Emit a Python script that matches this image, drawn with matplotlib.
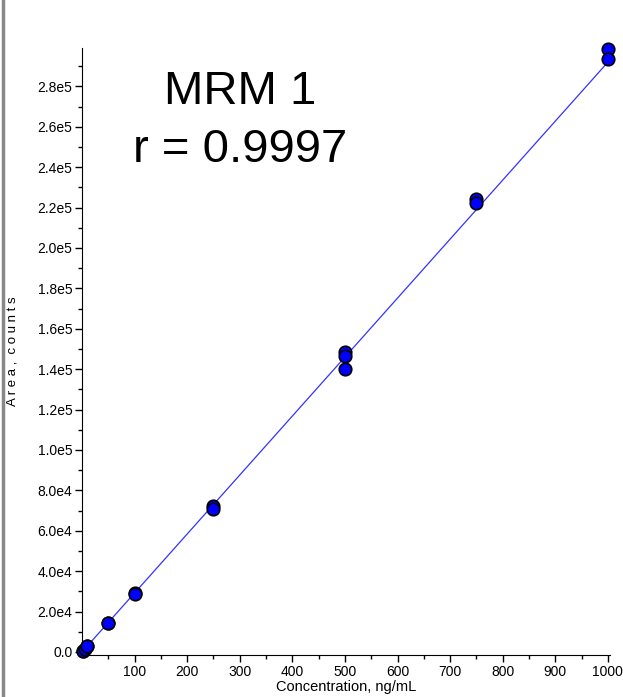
import matplotlib
matplotlib.use("Agg")
import matplotlib.pyplot as plt
from matplotlib.lines import Line2D
import numpy as np

# calibration standards
conc = [1, 1, 5, 10, 10, 50, 50, 100, 100, 250, 250, 500, 500, 500, 750, 750, 1000, 1000]
area = [300, 250, 1500, 3000, 2900, 14300, 14100, 29200, 28500, 72200, 71000,
        148400, 146400, 140000, 224100, 222100, 298300, 293400]

fit_slope = 292.0
fit_intercept = 0.0

y_ticks = [0, 2e4, 4e4, 6e4, 8e4, 1e5, 1.2e5, 1.4e5, 1.6e5, 1.8e5, 2e5,
           2.2e5, 2.4e5, 2.6e5, 2.8e5]
y_labels = ["0.0", "2.0e4", "4.0e4", "6.0e4", "8.0e4", "1.0e5", "1.2e5", "1.4e5",
            "1.6e5", "1.8e5", "2.0e5", "2.2e5", "2.4e5", "2.6e5", "2.8e5"]
x_ticks = [100, 200, 300, 400, 500, 600, 700, 800, 900, 1000]

plt.rcParams['font.family'] = ['Liberation Sans', 'DejaVu Sans']

fig = plt.figure(figsize=(6.23, 6.97), dpi=100)
ax = fig.add_axes([82 / 623, 42 / 697, 528 / 623, 607 / 697])

# fitted line
xs = np.array([0, 1000])
ax.plot(xs, fit_slope * xs + fit_intercept, color='#3333ff', lw=0.9, zorder=2)

# points
ax.plot(conc, area, 'o', ms=9, mfc='#0000ff', mec='black', mew=1.2, zorder=3,
        clip_on=False)

ax.set_xlim(0, 1004)
ax.set_ylim(-1500, 299000)

ax.set_xticks(x_ticks)
ax.set_xticklabels([str(t) for t in x_ticks])
ax.set_xticks(np.arange(50, 1001, 100), minor=True)
ax.set_yticks(y_ticks)
ax.set_yticklabels(y_labels)
ax.set_yticks(np.arange(1e4, 2.99e5, 2e4), minor=True)

ax.tick_params(axis='both', which='major', labelsize=10, length=5, width=1,
               direction='out', pad=2)
ax.tick_params(axis='both', which='minor', length=3, width=1, direction='out')

ax.spines['top'].set_visible(False)
ax.spines['right'].set_visible(False)

ax.set_xlabel('Concentration, ng/mL', fontsize=10.5, labelpad=1)
ax.set_ylabel('A r e a ,  c o u n t s', fontsize=9.5)
ax.yaxis.set_label_coords(-0.121, 0.5)

ax.text(300, 277000, 'MRM 1', fontsize=34, ha='center', va='center')
ax.text(300, 248500, 'r = 0.9997', fontsize=34, ha='center', va='center')

# grey frame line on the left edge
fig.add_artist(Line2D([0.005, 0.005], [0, 1], color='#888888', lw=2.5))

fig.savefig('out.png', dpi=100)
